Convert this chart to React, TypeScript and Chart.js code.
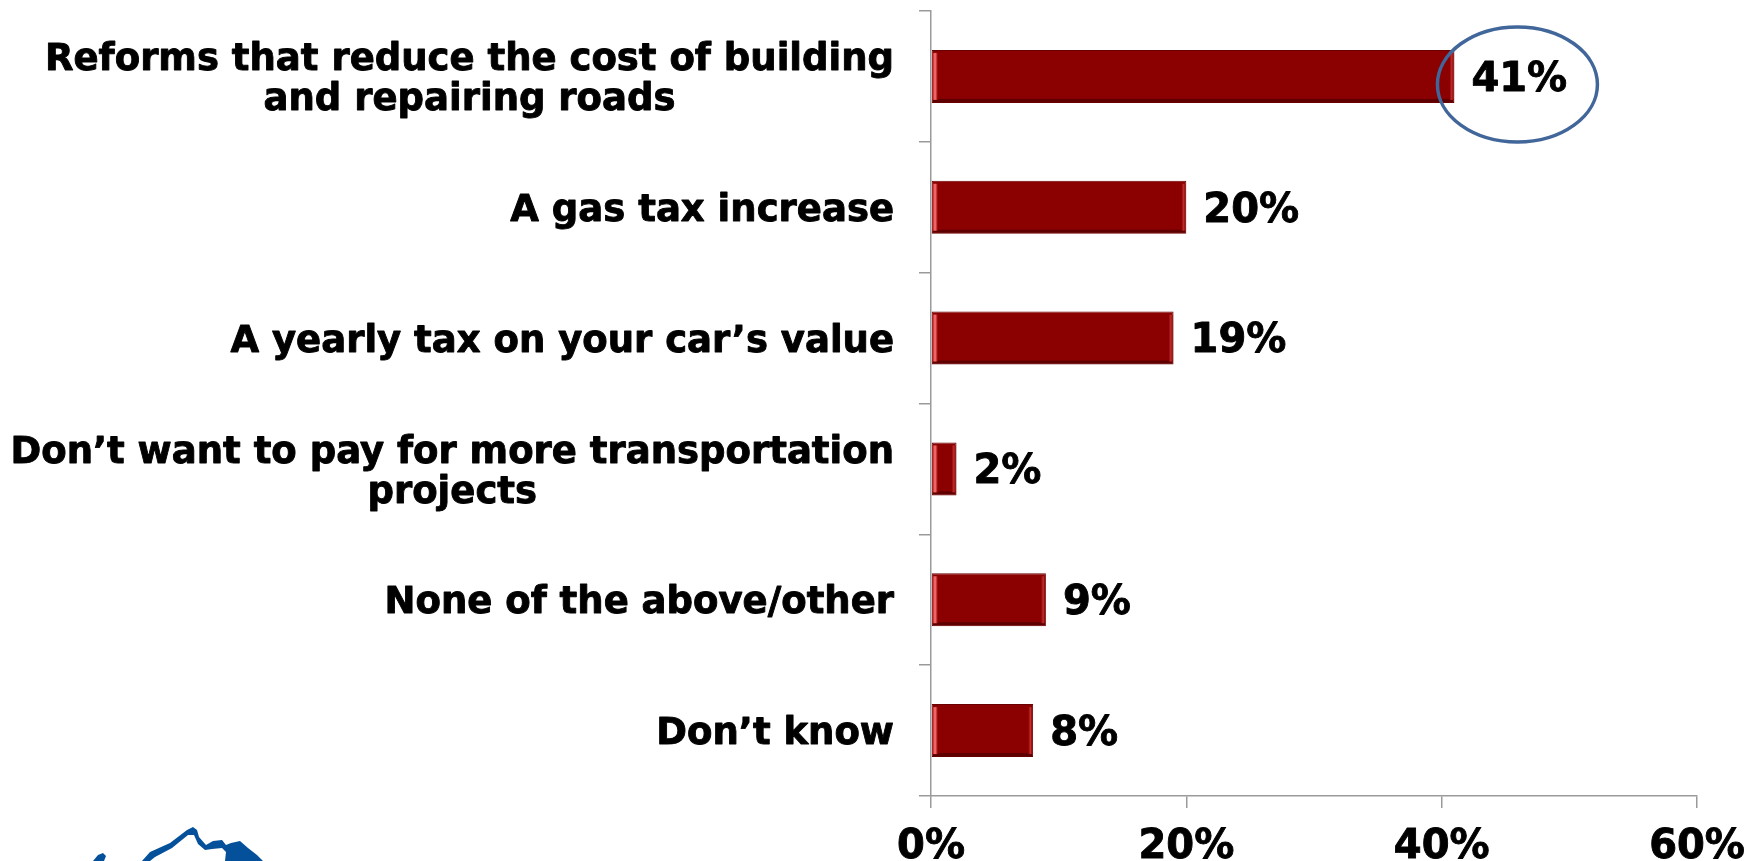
import React, { useEffect, useRef } from "react";
import { Chart, registerables } from "chart.js";

Chart.register(...registerables);

const categories: string[][] = [
  ["Reforms that reduce the cost of building", "and repairing roads"],
  ["A gas tax increase"],
  ["A yearly tax on your car\u2019s value"],
  ["Don\u2019t want to pay for more transportation", "projects"],
  ["None of the above/other"],
  ["Don\u2019t know"],
];
const values: number[] = [41, 20, 19, 2, 9, 8];
const xTicks: number[] = [0, 20, 40, 60];
const highlightIndex = 0;

const FONT = '"DejaVu Sans", Verdana, sans-serif';

const labelsPlugin = {
  id: "customLabels",
  afterDraw(chart: any) {
    const ctx = chart.ctx;
    const yScale = chart.scales.y;
    const meta = chart.getDatasetMeta(0);
    ctx.save();
    ctx.fillStyle = "#000";
    ctx.strokeStyle = "#000";
    ctx.lineWidth = 0.9;
    ctx.lineJoin = "round";
    ctx.textBaseline = "middle";
    // category labels, lines centered on each other, block right-aligned
    ctx.font = `bold 37px ${FONT}`;
    ctx.textAlign = "center";
    const rightEdge = yScale.right - 37;
    categories.forEach((lines, i) => {
      const cy = yScale.getPixelForValue(i) + 4;
      const maxW = Math.max(...lines.map((l) => ctx.measureText(l).width));
      const cx = rightEdge - maxW / 2;
      const lh = 40;
      const startY = cy - ((lines.length - 1) * lh) / 2;
      lines.forEach((l, j) => {
        ctx.fillText(l, cx, startY + j * lh);
        ctx.strokeText(l, cx, startY + j * lh);
      });
    });
    // value labels
    ctx.font = `bold 40px ${FONT}`;
    ctx.textAlign = "left";
    meta.data.forEach((el: any, i: number) => {
      const t = values[i] + "%";
      ctx.fillText(t, el.x + 17, el.y + 4);
      ctx.strokeText(t, el.x + 17, el.y + 4);
    });
    // highlight ellipse
    const hel: any = meta.data[highlightIndex];
    if (hel) {
      ctx.beginPath();
      ctx.ellipse(hel.x + 63, hel.y + 8, 80, 57.5, 0, 0, Math.PI * 2);
      ctx.lineWidth = 3.5;
      ctx.strokeStyle = "#41669a";
      ctx.stroke();
    }
    // logo fragment (decorative)
    ctx.fillStyle = "#05509a";
    ctx.beginPath();
    const pts = [
      [142, 861], [150, 852], [170, 843], [187, 830], [193, 827], [197, 830], [199, 837],
      [206, 845], [213, 841], [222, 840], [226, 845], [231, 843], [240, 841], [248, 848],
      [257, 855], [263, 861], [225, 861], [226, 852], [222, 848], [212, 849], [205, 850],
      [198, 844], [194, 835], [188, 835], [172, 848], [155, 857], [150, 861],
    ];
    pts.forEach(([x, y], k) => (k ? ctx.lineTo(x, y) : ctx.moveTo(x, y)));
    ctx.closePath();
    ctx.fill();
    ctx.beginPath();
    [[93, 861], [98, 855], [103, 853], [106, 856], [104, 861]].forEach(([x, y], k) =>
      k ? ctx.lineTo(x, y) : ctx.moveTo(x, y)
    );
    ctx.closePath();
    ctx.fill();
    ctx.restore();
  },
};

const bevelPlugin = {
  id: "bevel",
  afterDatasetsDraw(chart: any) {
    const ctx = chart.ctx;
    const meta = chart.getDatasetMeta(0);
    ctx.save();
    meta.data.forEach((el: any) => {
      const { x, y, base, height } = el.getProps(["x", "y", "base", "height"], true);
      const top = y - height / 2;
      const bot = y + height / 2;
      const w = x - base;
      ctx.fillStyle = "#5e0000";
      ctx.fillRect(base + 1, bot - 4, w - 2, 3);
      const g = ctx.createLinearGradient(base + 1, 0, base + 6, 0);
      g.addColorStop(0, "#c01818");
      g.addColorStop(0.45, "#ff7a7a");
      g.addColorStop(1, "#9a0505");
      ctx.fillStyle = g;
      ctx.fillRect(base + 1, top + 3, 5, height - 6);
      const g2 = ctx.createLinearGradient(x - 5, 0, x - 1, 0);
      g2.addColorStop(0, "#8b0000");
      g2.addColorStop(0.6, "#c03030");
      g2.addColorStop(1, "#8b0000");
      ctx.fillStyle = g2;
      ctx.fillRect(x - 5, top + 3, 4, height - 6);
    });
    ctx.restore();
  },
};

export default function App() {
  const ref = useRef<HTMLCanvasElement>(null);
  useEffect(() => {
    if (!ref.current) return;
    const chart = new Chart(ref.current, {
      type: "bar",
      data: {
        labels: categories.map((c) => c.join(" ")),
        datasets: [
          {
            data: values,
            backgroundColor: "#8b0000",
            borderColor: "#6a0000",
            borderWidth: 1,
            borderSkipped: false,
            categoryPercentage: 1,
            barPercentage: 0.405,
          },
        ],
      },
      options: {
        indexAxis: "y",
        responsive: false,
        animation: false,
        devicePixelRatio: 1,
        layout: { padding: { top: 11, right: 55, left: 0, bottom: 0 } },
        plugins: { legend: { display: false }, tooltip: { enabled: false } },
        scales: {
          x: {
            min: 0,
            max: 60,
            afterBuildTicks: (scale: any) => {
              scale.ticks = xTicks.map((v) => ({ value: v }));
            },
            afterFit: (scale: any) => {
              scale.height = 65;
              scale.paddingLeft = 0;
              scale.paddingRight = 0;
            },
            grid: { drawOnChartArea: false, tickLength: 12, color: "#9a9a9a", lineWidth: 1.5 },
            border: { color: "#9a9a9a", width: 1.5 },
            ticks: {
              font: { family: FONT, size: 40, weight: "bold" },
              color: "#000",
              textStrokeColor: "#000",
              textStrokeWidth: 0.9,
              padding: 16,
              callback: (v: any) => v + "%",
            },
          },
          y: {
            afterFit: (scale: any) => {
              scale.width = 931;
              scale.paddingTop = 0;
              scale.paddingBottom = 0;
            },
            grid: { drawOnChartArea: false, tickLength: 12, color: "#9a9a9a", lineWidth: 1.5, offset: true },
            border: { color: "#9a9a9a", width: 1.5 },
            ticks: { display: false },
          },
        },
      },
      plugins: [bevelPlugin, labelsPlugin],
    });
    return () => chart.destroy();
  }, []);
  return (
    <div style={{ position: "fixed", left: 0, top: 0, width: 1752, height: 861, background: "#fff" }}>
      <canvas ref={ref} width={1752} height={861} style={{ display: "block" }} />
    </div>
  );
}
